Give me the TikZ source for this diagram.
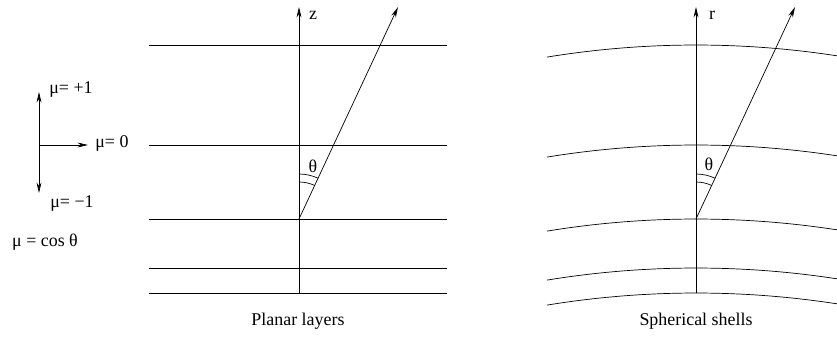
\documentclass[tikz,border=0pt]{standalone}
\usepackage{fontspec}
\setmainfont{Liberation Serif}
\usepackage{tikz}
\usetikzlibrary{arrows.meta}

\begin{document}
\begin{tikzpicture}[x=0.02cm,y=0.02cm,
  ray/.style={-{Stealth[length=6pt,width=2.8pt]}},
  lbl/.style={font=\fontsize{10.2}{12}\selectfont,inner sep=0pt}]
  \useasboundingbox (0,0) rectangle (837,338);
  \coordinate (muc) at (39,193);
  \coordinate (mup) at (39,246);
  \coordinate (mum) at (39,145);
  \node[lbl] (mplus) at (71,248) {μ= +1};
  \node[lbl,anchor=west] (mzero) at (95,195) {μ= 0};
  \node[lbl] (mminus) at (72,134) {μ= −1};
  \node[lbl] (mcos) at (45,96) {μ = cos θ};
  \draw[ray] (muc) -- (mup);
  \draw[ray] (muc) -- (mum);
  \draw[ray] (muc) -- ([xshift=-4]mzero.west |- muc);
  \draw (149,293) -- (447,293);
  \draw (149,193) -- (447,193);
  \draw (149,119) -- (447,119);
  \draw (149,70) -- (447,70);
  \draw (149,45) -- (447,45);
  \coordinate (Pb) at (299,45);
  \coordinate (Pt) at (299,331);
  \coordinate (Po) at (299,119);
  \coordinate (Pr) at (398,331);
  \draw[ray] (Pb) -- (Pt);
  \draw[ray] (Po) -- (Pr);
  \draw (299,156) arc[start angle=90,end angle=64.9,radius=37];
  \draw (299,164) arc[start angle=90,end angle=64.9,radius=45];
  \node[lbl] (zlab) at (313,323) {z};
  \node[lbl] (thp) at (313,172) {θ};
  \node[lbl] (planar) at (298,17) {Planar layers};
  \draw (547,280.9) arc[start angle=99.27,end angle=81.23,radius=925];
  \draw (547,180.9) arc[start angle=99.27,end angle=81.23,radius=925];
  \draw (547,106.9) arc[start angle=99.27,end angle=81.23,radius=925];
  \draw (547,57.9) arc[start angle=99.27,end angle=81.23,radius=925];
  \draw (547,32.9) arc[start angle=99.27,end angle=81.23,radius=925];
  \coordinate (Sb) at (696,45);
  \coordinate (St) at (696,331);
  \coordinate (So) at (696,119);
  \coordinate (Sr) at (795,331);
  \draw[ray] (Sb) -- (St);
  \draw[ray] (So) -- (Sr);
  \draw (696,156) arc[start angle=90,end angle=64.9,radius=37];
  \draw (696,164) arc[start angle=90,end angle=64.9,radius=45];
  \node[lbl] (rlab) at (712,323) {r};
  \node[lbl] (ths) at (709,174) {θ};
  \node[lbl] (spherical) at (696,17) {Spherical shells};
\end{tikzpicture}
\end{document}
